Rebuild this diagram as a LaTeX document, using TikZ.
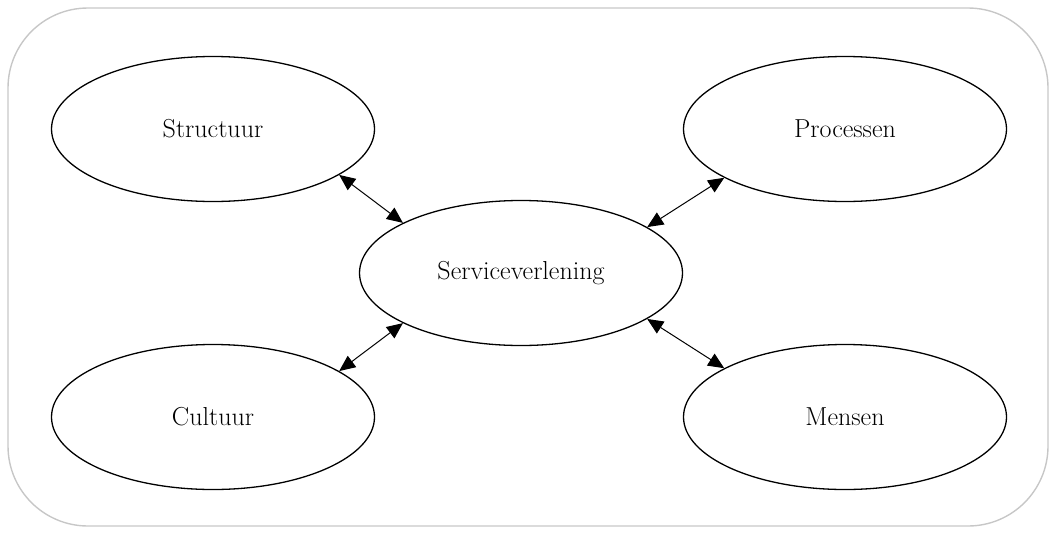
\documentclass[tikz,border=0pt]{standalone}
\usetikzlibrary{arrows.meta,shapes.geometric}
\begin{document}
\begin{tikzpicture}[x=1pt,y=-1pt,
  oval/.style={draw=black, line width=1.3pt, ellipse, minimum width=323pt, minimum height=145pt, inner sep=0pt, font=\fontsize{26}{30}\selectfont},
  link/.style={draw=black, line width=1pt, {Triangle[length=16pt,width=14pt]}-{Triangle[length=16pt,width=14pt]}}]
\useasboundingbox (0,0) rectangle (1054,533);
\draw[draw=black!22, line width=1.4pt, rounded corners=80pt] (8,8) rectangle (1048,526);
\node[oval] (s) at (213,129) {Structuur};
\node[oval] (p) at (845,129) {Processen};
\node[oval] (v) at (521,273) {Serviceverlening};
\node[oval] (c) at (213,417) {Cultuur};
\node[oval] (m) at (845,417) {Mensen};
\draw[link] (s.-20) -- (v.157);
\draw[link] (p.202) -- (v.20);
\draw[link] (c.20) -- (v.203);
\draw[link] (m.158) -- (v.-20);
\end{tikzpicture}
\end{document}
